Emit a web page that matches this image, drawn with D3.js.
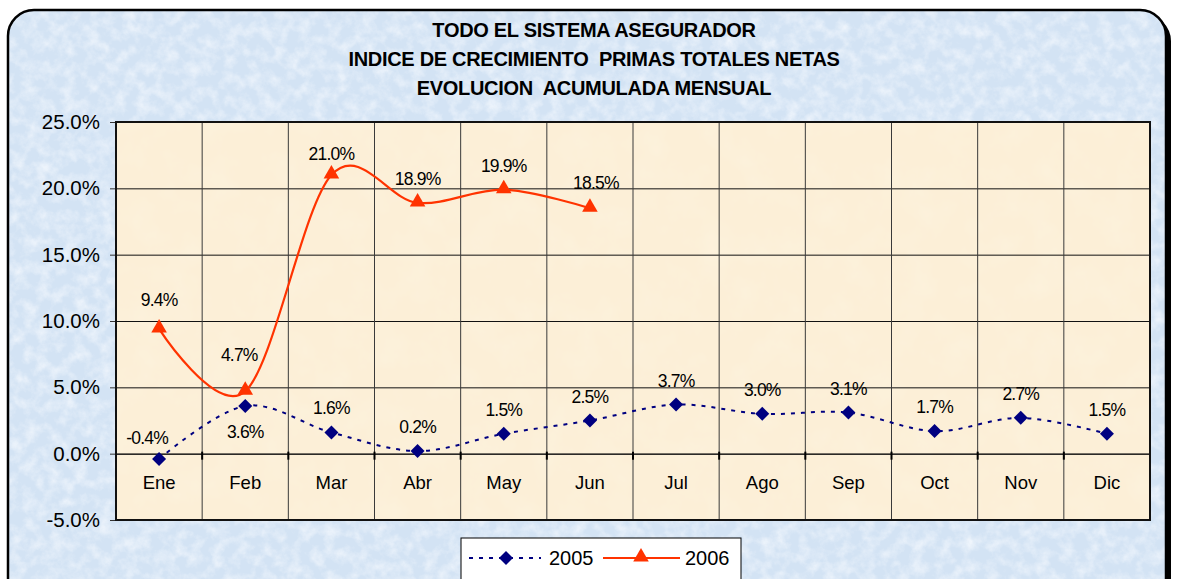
<!DOCTYPE html>
<html>
<head>
<meta charset="utf-8">
<script src="https://cdn.jsdelivr.net/npm/d3@7"></script>
<style>
  body { margin: 0; background: #fff; }
  svg { display: block; font-family: "Liberation Sans", Arial, sans-serif; }
</style>
</head>
<body>
<div id="container"></div>
<script>
// data
var months = ["Ene", "Feb", "Mar", "Abr", "May", "Jun", "Jul", "Ago", "Sep", "Oct", "Nov", "Dic"];
var values2005 = [-0.004, 0.036, 0.016, 0.002, 0.015, 0.025, 0.037, 0.030, 0.031, 0.017, 0.027, 0.015];
var values2006 = [0.094, 0.047, 0.210, 0.189, 0.199, 0.185];
var labels2005 = ["-0.4%", "3.6%", "1.6%", "0.2%", "1.5%", "2.5%", "3.7%", "3.0%", "3.1%", "1.7%", "2.7%", "1.5%"];
var labels2006 = ["9.4%", "4.7%", "21.0%", "18.9%", "19.9%", "18.5%"];
var yTicks = [-0.05, 0, 0.05, 0.10, 0.15, 0.20, 0.25];
var titleLines = ["TODO EL SISTEMA ASEGURADOR", "INDICE DE CRECIMIENTO  PRIMAS TOTALES NETAS", "EVOLUCION  ACUMULADA MENSUAL"];
var seriesNames = ["2005", "2006"];

//---------------------------- SVG ----------------------------//
const width = 1178;
const height = 579;
const plot = {left: 116, right: 1150, top: 122, bottom: 520};
const navy = "#000080";
const orange = "#FF3300";

const svg = d3.select("#container").append("svg")
    .attr("width", width)
    .attr("height", height);

const defs = svg.append("defs");

// paper-like textures
function texture(id, freq, seed, matrix) {
  const f = defs.append("filter").attr("id", id)
      .attr("x", 0).attr("y", 0).attr("width", 1).attr("height", 1);
  f.append("feTurbulence").attr("type", "fractalNoise")
      .attr("baseFrequency", freq).attr("numOctaves", 5).attr("seed", seed);
  f.append("feColorMatrix").attr("type", "matrix").attr("values", matrix);
}
texture("blueTex", 0.08, 7, "0 0 0 0 0.95  0 0 0 0 0.97  0 0 0 0 1  1.3 0 0 0 -0.5");
texture("creamTex", 0.03, 3, "0 0 0 0 1  0 0 0 0 0.97  0 0 0 0 0.86  0.4 0 0 0 -0.17");

defs.append("clipPath").attr("id", "frameClip")
  .append("rect").attr("x", 8).attr("y", 10).attr("width", 1158).attr("height", 620).attr("rx", 26);

// frame shadow + frame
svg.append("rect")
    .attr("x", 13).attr("y", 15).attr("width", 1158).attr("height", 620).attr("rx", 26)
    .attr("fill", "#000");

const frame = svg.append("g").attr("clip-path", "url(#frameClip)");
frame.append("rect")
    .attr("x", 8).attr("y", 10).attr("width", 1158).attr("height", 620)
    .attr("fill", "#D3E3F4");
frame.append("rect")
    .attr("x", 8).attr("y", 10).attr("width", 1158).attr("height", 620)
    .attr("filter", "url(#blueTex)");

svg.append("rect")
    .attr("x", 8).attr("y", 10).attr("width", 1158).attr("height", 620).attr("rx", 26)
    .attr("fill", "none").attr("stroke", "#000").attr("stroke-width", 2.5);

//--------------------------- TITLE ----------------------------//
svg.append("g").selectAll("text")
    .data(titleLines)
    .enter().append("text")
    .attr("x", 594)
    .attr("y", (d, i) => 37 + i * 29)
    .attr("text-anchor", "middle")
    .attr("font-size", 20)
    .attr("font-weight", "bold")
    .attr("letter-spacing", -0.3)
    .style("white-space", "pre")
    .text(d => d);

//--------------------------- SCALES ---------------------------//
const x = d3.scaleBand().domain(months).range([plot.left, plot.right]);
const y = d3.scaleLinear().domain([-0.05, 0.25]).range([plot.bottom, plot.top]);
const cx = d => x(d) + x.bandwidth() / 2;

//------------------------- PLOT AREA --------------------------//
svg.append("rect")
    .attr("x", plot.left).attr("y", plot.top)
    .attr("width", plot.right - plot.left).attr("height", plot.bottom - plot.top)
    .attr("fill", "#FCEFD7");
svg.append("rect")
    .attr("x", plot.left).attr("y", plot.top)
    .attr("width", plot.right - plot.left).attr("height", plot.bottom - plot.top)
    .attr("filter", "url(#creamTex)");

// horizontal grid + y axis
const pct = d => d3.format(".1%")(d).replace("\u2212", "-");
const yaxis = d3.axisLeft(y)
    .tickValues(yTicks)
    .tickFormat(pct)
    .tickSizeInner(-(plot.right - plot.left))
    .tickSizeOuter(0)
    .tickPadding(16);

const gy = svg.append("g")
    .attr("transform", "translate(" + plot.left + ",0)")
    .call(yaxis);
gy.select(".domain").remove();
gy.selectAll(".tick line").attr("stroke", "#111").attr("stroke-width", 1);
gy.selectAll(".tick").append("line")
    .attr("x1", -6).attr("x2", 0).attr("stroke", "#333");
gy.selectAll(".tick text")
    .attr("font-size", 20.5)
    .attr("font-family", "Liberation Sans, Arial, sans-serif")
    .attr("fill", "#000");

// vertical grid at category boundaries
svg.append("g").selectAll("line")
    .data(months.slice(1))
    .enter().append("line")
    .attr("x1", d => x(d)).attr("x2", d => x(d))
    .attr("y1", plot.top).attr("y2", plot.bottom)
    .attr("stroke", "#3a3a3a").attr("stroke-width", 1);

// category axis at zero
const xaxis = d3.axisBottom(x).tickSize(0).tickPadding(22);
const gx = svg.append("g")
    .attr("transform", "translate(0," + y(0) + ")")
    .call(xaxis);
gx.select(".domain").attr("stroke", "#111");
gx.selectAll(".tick text")
    .attr("font-size", 18.5)
    .attr("font-family", "Liberation Sans, Arial, sans-serif")
    .attr("fill", "#000");
gx.selectAll(".boundary")
    .data(months.slice(1))
    .enter().append("line")
    .attr("x1", d => x(d)).attr("x2", d => x(d))
    .attr("y1", -2).attr("y2", 6)
    .attr("stroke", "#000").attr("stroke-width", 2);

svg.append("rect")
    .attr("x", plot.left).attr("y", plot.top)
    .attr("width", plot.right - plot.left).attr("height", plot.bottom - plot.top)
    .attr("fill", "none").attr("stroke", "#111").attr("stroke-width", 2);

//--------------------------- LINES ----------------------------//
const s2005 = months.map((m, i) => ({m: m, v: values2005[i], label: labels2005[i]}));
const s2006 = values2006.map((v, i) => ({m: months[i], v: v, label: labels2006[i]}));

const line = d3.line()
    .curve(d3.curveCardinal.tension(0))
    .x(d => cx(d.m))
    .y(d => y(d.v));

svg.append("path")
    .datum(s2005)
    .attr("d", line)
    .attr("fill", "none")
    .attr("stroke", navy)
    .attr("stroke-width", 2)
    .attr("stroke-dasharray", "4,6");

svg.append("path")
    .datum(s2006)
    .attr("d", line)
    .attr("fill", "none")
    .attr("stroke", orange)
    .attr("stroke-width", 2.2);

const diamond = "M0,-7L7,0L0,7L-7,0Z";
const triangle = d3.symbol().type(d3.symbolTriangle).size(105)();

svg.append("g").selectAll("path")
    .data(s2005)
    .enter().append("path")
    .attr("transform", d => "translate(" + cx(d.m) + "," + y(d.v) + ")")
    .attr("d", diamond)
    .attr("fill", navy);

svg.append("g").selectAll("path")
    .data(s2006)
    .enter().append("path")
    .attr("transform", d => "translate(" + cx(d.m) + "," + (y(d.v) - 1) + ")")
    .attr("d", triangle)
    .attr("fill", orange);

//-------------------------- LABELS ----------------------------//
function labelOffset(d, series) {
  // most labels sit above their point
  if (series == "2005" && d.m == "Ene") return [-12, -15];
  if (series == "2005" && d.m == "Feb") return [0, 32];
  if (series == "2006" && d.m == "Feb") return [-6, -30];
  if (series == "2006" && d.m == "Mar") return [0, -15];
  if (series == "2006" && d.m == "Jun") return [6, -19];
  if (series == "2006" && d.m == "Ene") return [0, -23];
  return [0, -18];
}

function drawLabels(data, series) {
  svg.append("g").selectAll("text")
    .data(data)
    .enter().append("text")
    .attr("x", d => cx(d.m) + labelOffset(d, series)[0])
    .attr("y", d => y(d.v) + labelOffset(d, series)[1])
    .attr("text-anchor", "middle")
    .attr("font-size", 17.5)
    .attr("letter-spacing", -0.8)
    .text(d => d.label);
}
drawLabels(s2005, "2005");
drawLabels(s2006, "2006");

//-------------------------- LEGEND ----------------------------//
const legend = svg.append("g").attr("transform", "translate(461,538)");
legend.append("rect")
    .attr("width", 280).attr("height", 60)
    .attr("fill", "#fff").attr("stroke", "#000").attr("stroke-width", 1);

legend.append("line")
    .attr("x1", 8).attr("x2", 80).attr("y1", 20).attr("y2", 20)
    .attr("stroke", navy).attr("stroke-width", 2).attr("stroke-dasharray", "4,6");
legend.append("path")
    .attr("transform", "translate(45,20)")
    .attr("d", diamond).attr("fill", navy);
legend.append("text")
    .attr("x", 88).attr("y", 27).attr("font-size", 20)
    .text(seriesNames[0]);

legend.append("line")
    .attr("x1", 142).attr("x2", 219).attr("y1", 20).attr("y2", 20)
    .attr("stroke", orange).attr("stroke-width", 2);
legend.append("path")
    .attr("transform", "translate(180,19)")
    .attr("d", triangle).attr("fill", orange);
legend.append("text")
    .attr("x", 224).attr("y", 27).attr("font-size", 20)
    .text(seriesNames[1]);
</script>
</body>
</html>
